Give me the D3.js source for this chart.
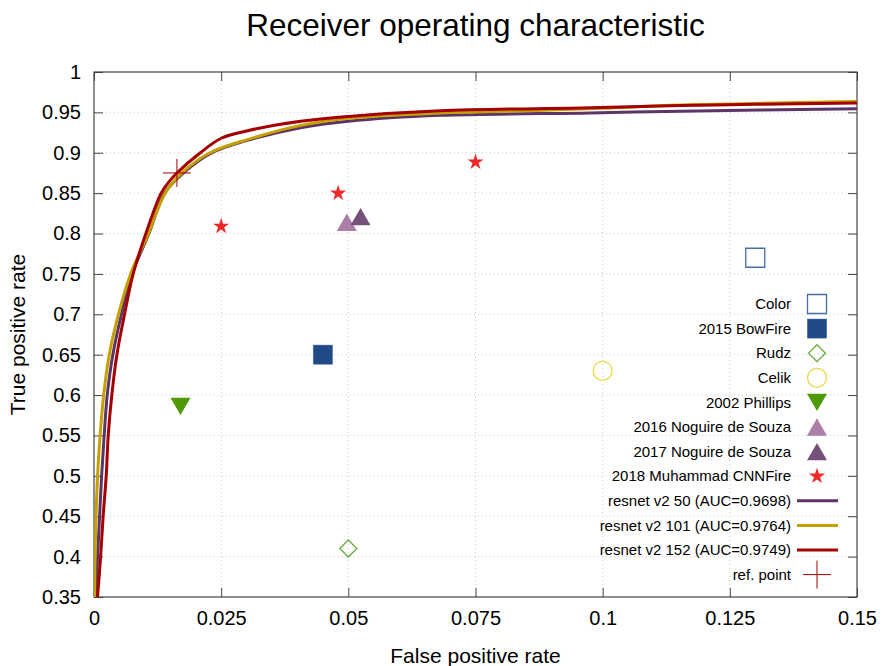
<!DOCTYPE html>
<html>
<head>
<meta charset="utf-8">
<script src="https://cdn.jsdelivr.net/npm/d3@7"></script>
<style>
body { margin:0; background:#fff; }
svg { font-family:"Liberation Sans", Arial, sans-serif; }
</style>
</head>
<body>
<svg class="roc"></svg>
<script>
// ROC curves
var r50Fpr  = [0.0004,0.0007,0.0011,0.0015,0.002,0.0026,0.0037,0.0054,0.0075,0.0108,0.0139,0.0176,0.0232,0.03,0.0406,0.05,0.0681,0.0976,0.1154,0.15];
var r50Tpr  = [0.35,0.40,0.45,0.50,0.55,0.60,0.65,0.70,0.75,0.80,0.85,0.875,0.90,0.915,0.931,0.939,0.9463,0.9493,0.9515,0.9546];
var r101Fpr = [0.0001,0.0002,0.0004,0.0007,0.0012,0.0019,0.003,0.0048,0.0072,0.0107,0.014,0.0173,0.0228,0.03,0.04,0.05,0.0681,0.0752,0.1,0.1122,0.13,0.15];
var r101Tpr = [0.35,0.40,0.45,0.50,0.55,0.60,0.65,0.70,0.75,0.80,0.85,0.875,0.90,0.916,0.933,0.9426,0.9493,0.9505,0.955,0.9585,0.961,0.9636];
var r152Fpr = [0.0007,0.0013,0.0018,0.0024,0.0028,0.0035,0.0045,0.006,0.0077,0.0102,0.0132,0.0148,0.0163,0.0209,0.025,0.03,0.0406,0.05,0.0681,0.0976,0.1154,0.13,0.15];
var r152Tpr = [0.35,0.40,0.45,0.50,0.55,0.60,0.65,0.70,0.75,0.80,0.85,0.8646,0.875,0.90,0.918,0.927,0.939,0.945,0.952,0.9557,0.9585,0.960,0.9616];

// single operating points of other methods
var pointNames = ["Color","2015 BowFire","Rudz","Celik","2002 Phillips","2016 Noguire de Souza","2017 Noguire de Souza"];
var pointFpr   = [0.13, 0.045, 0.05, 0.1, 0.017, 0.0497, 0.0524];
var pointTpr   = [0.77, 0.65, 0.41, 0.63, 0.586, 0.814, 0.821];
var starFpr = [0.025, 0.048, 0.075];
var starTpr = [0.809, 0.85, 0.8885];
var refFpr = [0.0163];
var refTpr = [0.875];

var curveNames = ["resnet v2 50 (AUC=0.9698)","resnet v2 101 (AUC=0.9764)","resnet v2 152 (AUC=0.9749)"];
var xTicks = [0,0.025,0.05,0.075,0.1,0.125,0.15];
var xTickLabels = ["0","0.025","0.05","0.075","0.1","0.125","0.15"];
var yTicks = [0.35,0.4,0.45,0.5,0.55,0.6,0.65,0.7,0.75,0.8,0.85,0.9,0.95,1];
var yTickLabels = ["0.35","0.4","0.45","0.5","0.55","0.6","0.65","0.7","0.75","0.8","0.85","0.9","0.95","1"];

var screen = {width:883, height:666};
var margins = {top:72, bottom:69, left:94, right:26};
var width = screen.width - margins.left - margins.right;
var height = screen.height - margins.top - margins.bottom;

var svg = d3.select(".roc")
            .attr("width", screen.width)
            .attr("height", screen.height);

var xScale = d3.scaleLinear().domain([0,0.15]).range([0,width]);
var yScale = d3.scaleLinear().domain([0.35,1]).range([height,0]);

// marker shapes, centred on 0,0
var shapes = {
  square: function(s){ return "M"+(-s)+","+(-s)+"h"+(2*s)+"v"+(2*s)+"h"+(-2*s)+"Z"; },
  diamond: function(s){ return "M0,"+(-s)+"L"+s+",0L0,"+s+"L"+(-s)+",0Z"; },
  circle: function(s){ return "M"+s+",0A"+s+","+s+" 0 1,1 "+(-s)+",0A"+s+","+s+" 0 1,1 "+s+",0Z"; },
  tdown: function(s){ return "M"+(-s)+","+(-s*0.87)+"L"+s+","+(-s*0.87)+"L0,"+(s*0.87)+"Z"; },
  tup: function(s){ return "M"+(-s)+","+(s*0.87)+"L"+s+","+(s*0.87)+"L0,"+(-s*0.87)+"Z"; },
  star: function(s){ return d3.symbol(d3.symbolStar, s*s*1.12)(); },
  cross: function(s){ return "M"+(-s)+",0H"+s+"M0,"+(-s)+"V"+s; }
};

var pointStyle = [
  {shape:"square", size:9.5, fill:"none", stroke:"#4a6ca6", sw:1.3},
  {shape:"square", size:9.5, fill:"#204a87", stroke:"#204a87", sw:0.5},
  {shape:"diamond", size:8.5, fill:"none", stroke:"#6aab3c", sw:1.3},
  {shape:"circle", size:9.5, fill:"none", stroke:"#edd84a", sw:1.3},
  {shape:"tdown", size:10, fill:"#4e9a06", stroke:"none", sw:0},
  {shape:"tup", size:10, fill:"#ad7fa8", stroke:"none", sw:0},
  {shape:"tup", size:10, fill:"#75507b", stroke:"none", sw:0}
];
var curveColors = ["#5c3566","#c4a000","#a40000"];

var plot = svg.append("g")
              .attr("transform","translate("+margins.left+","+margins.top+")");

plot.append("clipPath").attr("id","clip")
    .append("rect").attr("width",width).attr("height",height);

// grid
plot.append("g").selectAll("line")
    .data(xTicks.slice(1,-1))
    .enter().append("line")
    .attr("x1",function(d){return xScale(d)}).attr("x2",function(d){return xScale(d)})
    .attr("y1",0).attr("y2",height)
    .attr("stroke","#c8c8c8").attr("stroke-dasharray","1,3");
plot.append("g").selectAll("line")
    .data(yTicks.slice(1,-1))
    .enter().append("line")
    .attr("y1",function(d){return yScale(d)}).attr("y2",function(d){return yScale(d)})
    .attr("x1",0).attr("x2",width)
    .attr("stroke","#c8c8c8").attr("stroke-dasharray","1,3");

// axes, ticks on all four sides pointing in
var xAxis = d3.axisBottom(xScale).tickValues(xTicks)
              .tickFormat(function(d,i){return xTickLabels[i]})
              .tickSizeInner(-9).tickSizeOuter(0).tickPadding(14);
var yAxis = d3.axisLeft(yScale).tickValues(yTicks)
              .tickFormat(function(d,i){return yTickLabels[i]})
              .tickSizeInner(-9).tickSizeOuter(0).tickPadding(13);
var xTop = d3.axisTop(xScale).tickValues(xTicks).tickFormat("").tickSizeInner(-9).tickSizeOuter(0);
var yRight = d3.axisRight(yScale).tickValues(yTicks).tickFormat("").tickSizeInner(-9).tickSizeOuter(0);

plot.append("g").attr("transform","translate(0,"+height+")").call(xAxis);
plot.append("g").call(yAxis);
plot.append("g").call(xTop);
plot.append("g").attr("transform","translate("+width+",0)").call(yRight);
plot.selectAll(".domain").remove();
plot.selectAll(".tick line").attr("stroke","#444");
plot.selectAll(".tick text").attr("font-size","20px").attr("fill","#000")
    .attr("font-family","Liberation Sans, Arial, sans-serif");

plot.append("rect").attr("width",width).attr("height",height)
    .attr("fill","none").attr("stroke","#444").attr("stroke-width",1.2);

// curves
var drawLine = d3.line()
                 .x(function(d){return xScale(d[0])})
                 .y(function(d){return yScale(d[1])})
                 .curve(d3.curveCatmullRom.alpha(0.5));
var curves = [d3.zip(r50Fpr,r50Tpr), d3.zip(r101Fpr,r101Tpr), d3.zip(r152Fpr,r152Tpr)];

plot.append("g").attr("clip-path","url(#clip)")
    .selectAll("path")
    .data(curves)
    .enter().append("path")
    .attr("d",drawLine)
    .attr("fill","none")
    .attr("stroke",function(d,i){return curveColors[i]})
    .attr("stroke-width",3);

// points
plot.append("g").selectAll("path")
    .data(pointNames)
    .enter().append("path")
    .attr("transform",function(d,i){return "translate("+xScale(pointFpr[i])+","+yScale(pointTpr[i])+")"})
    .attr("d",function(d,i){return shapes[pointStyle[i].shape](pointStyle[i].size)})
    .attr("fill",function(d,i){return pointStyle[i].fill})
    .attr("stroke",function(d,i){return pointStyle[i].stroke})
    .attr("stroke-width",function(d,i){return pointStyle[i].sw});

plot.append("g").selectAll("path")
    .data(starFpr)
    .enter().append("path")
    .attr("transform",function(d,i){return "translate("+xScale(d)+","+yScale(starTpr[i])+")"})
    .attr("d",shapes.star(8.5))
    .attr("fill","#ef2929");

plot.append("g").selectAll("path")
    .data(refFpr)
    .enter().append("path")
    .attr("transform",function(d,i){return "translate("+xScale(d)+","+yScale(refTpr[i])+")"})
    .attr("d",shapes.cross(14))
    .attr("stroke","#a40000").attr("stroke-width",1).attr("fill","none");

// legend
var legendItems = [];
pointNames.forEach(function(n,i){ legendItems.push({name:n, type:"pt", style:pointStyle[i]}) });
legendItems.push({name:"2018 Muhammad CNNFire", type:"star"});
curveNames.forEach(function(n,i){ legendItems.push({name:n, type:"line", color:curveColors[i]}) });
legendItems.push({name:"ref. point", type:"ref"});

var legend = svg.append("g").attr("transform","translate(791,304)");
var rows = legend.selectAll("g")
    .data(legendItems)
    .enter().append("g")
    .attr("transform",function(d,i){return "translate(0,"+(i*24.6)+")"});

rows.append("text")
    .attr("text-anchor","end").attr("dy","0.35em")
    .attr("font-size","15px").attr("fill","#000")
    .text(function(d){return d.name});

rows.each(function(d){
  var g = d3.select(this);
  if (d.type=="pt") {
    g.append("path").attr("transform","translate(26,0)")
     .attr("d",shapes[d.style.shape](d.style.size))
     .attr("fill",d.style.fill).attr("stroke",d.style.stroke).attr("stroke-width",d.style.sw);
  } else if (d.type=="star") {
    g.append("path").attr("transform","translate(26,0)").attr("d",shapes.star(8.5)).attr("fill","#ef2929");
  } else if (d.type=="line") {
    g.append("line").attr("x1",6).attr("x2",47).attr("stroke",d.color).attr("stroke-width",3);
  } else {
    g.append("path").attr("transform","translate(26,0)").attr("d",shapes.cross(14))
     .attr("stroke","#a40000").attr("stroke-width",1);
  }
});

// titles
svg.append("text").attr("x",margins.left+width/2).attr("y",36)
   .attr("text-anchor","middle").attr("font-size","31.5px").attr("fill","#000")
   .text("Receiver operating characteristic");
svg.append("text").attr("x",margins.left+width/2).attr("y",663)
   .attr("text-anchor","middle").attr("font-size","21px").attr("fill","#000")
   .text("False positive rate");
svg.append("text").attr("transform","translate(25,"+(margins.top+height/2)+") rotate(-90)")
   .attr("text-anchor","middle").attr("font-size","21px").attr("fill","#000")
   .text("True positive rate");
</script>
</body>
</html>
